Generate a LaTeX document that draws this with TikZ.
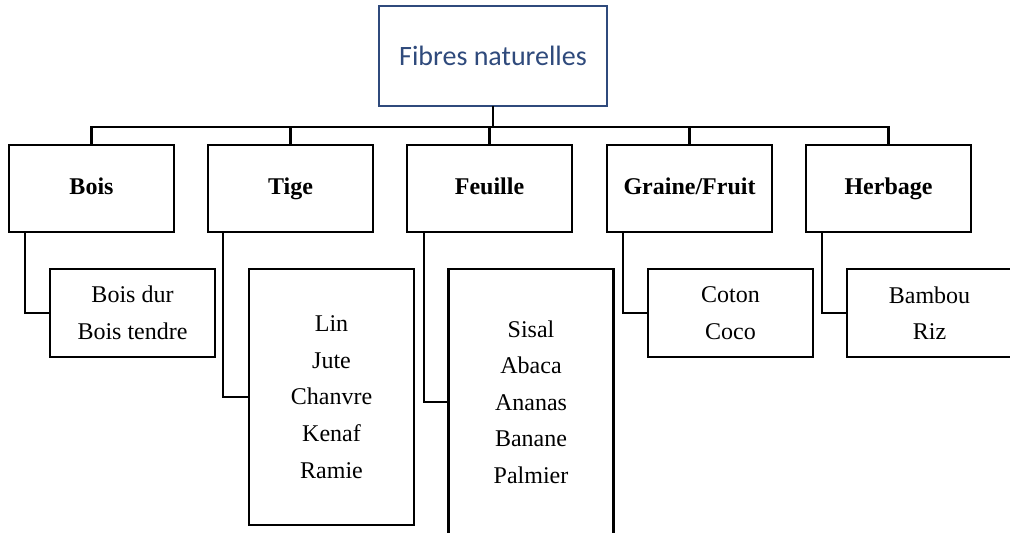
\documentclass[tikz,border=0pt]{standalone}
\usepackage{fontspec}
\setmainfont{Liberation Serif}
\newfontfamily\calib{Carlito}
\definecolor{navy}{HTML}{2F4A7C}
\begin{document}
\begin{tikzpicture}[x=1pt,y=-1pt,
  catbox/.style={draw=black,line width=2.4pt,minimum width=165pt,minimum height=87pt,inner sep=0pt,
    text height=16pt,text depth=5pt,font=\fontsize{24}{28}\selectfont\bfseries},
  listbox/.style={draw=black,line width=2.4pt,minimum width=165pt,inner sep=0pt,align=center,
    font=\fontsize{24}{36.6}\selectfont},
  link/.style={line width=2.4pt,line cap=rect}]
\useasboundingbox[fill=white] (0,0) rectangle (1010,533);
\node[draw=navy,line width=2pt,minimum width=228pt,minimum height=100pt,inner sep=0pt,
  text=navy,font=\calib\fontsize{28}{32}\selectfont] (root) at (493,56) {Fibres naturelles};
\node[catbox] (bois) at (91.5,188.5) {Bois};
\node[catbox] (tige) at (290.5,188.5) {Tige};
\node[catbox] (feuille) at (489.5,188.5) {Feuille};
\node[catbox] (graine) at (689.5,188.5) {Graine/Fruit};
\node[catbox] (herbage) at (888.5,188.5) {Herbage};
\node[listbox,minimum height=88pt] (boisc) at (132.5,313) {Bois dur\\Bois tendre};
\node[listbox,minimum height=256pt] (tigec) at (331.5,397) {Lin\\Jute\\Chanvre\\Kenaf\\Ramie};
\node[listbox,minimum height=266pt] (feuillec) at (531,402) {Sisal\\Abaca\\Ananas\\Banane\\Palmier};
\node[listbox,minimum height=88pt] (grainec) at (730.5,313) {Coton\\Coco};
\node[listbox,minimum height=88pt] (herbagec) at (929.5,313) {Bambou\\Riz};
\coordinate (busL) at (91.5,127);
\coordinate (busR) at (888.5,127);
\draw[link] (root.south) -- (root.south |- busL);
\draw[link] (busL) -- (busR);
\foreach \n in {bois,tige,feuille,graine,herbage}
  \draw[link] (\n.north |- busL) -- (\n.north);
\draw[link] ([xshift=17pt]bois.south west) |- (boisc.west);
\draw[link] ([xshift=16pt]tige.south west) |- (tigec.west);
\draw[link] ([xshift=18pt]feuille.south west) |- (feuillec.west);
\draw[link] ([xshift=17pt]graine.south west) |- (grainec.west);
\draw[link] ([xshift=17pt]herbage.south west) |- (herbagec.west);
\end{tikzpicture}
\end{document}
